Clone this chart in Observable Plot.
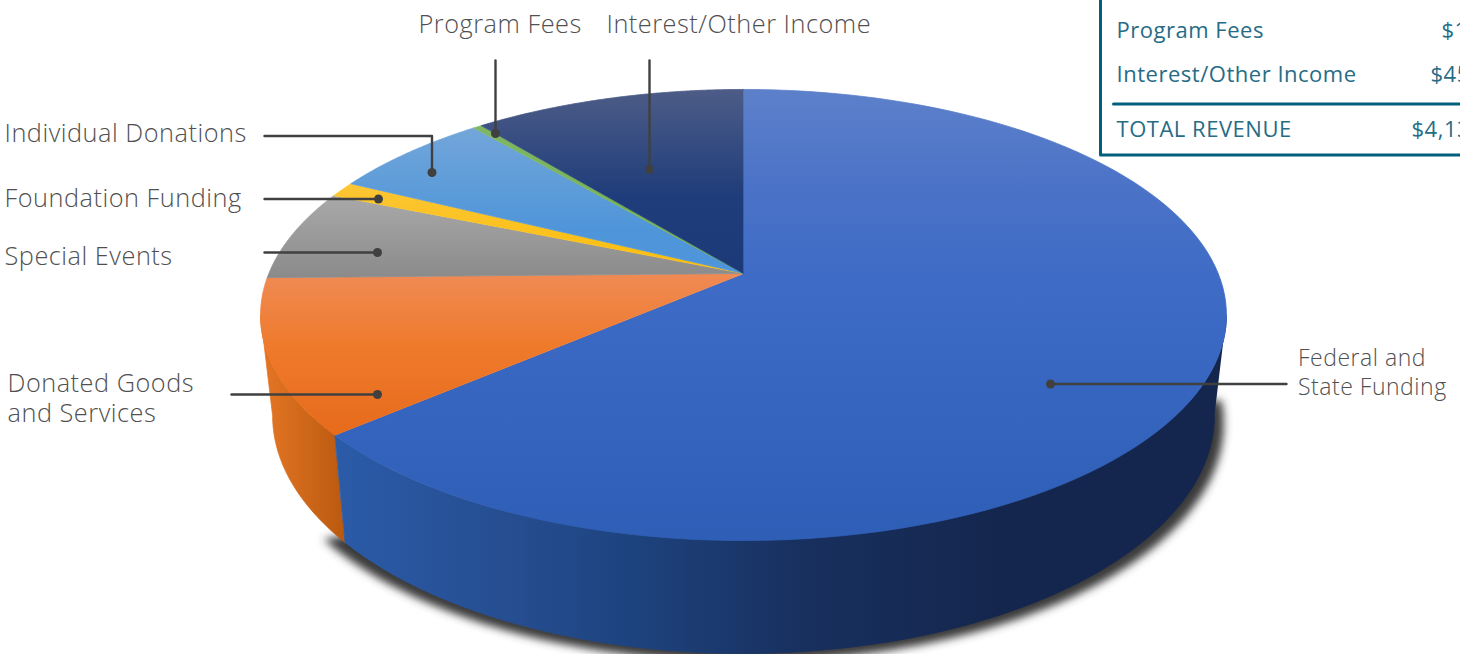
<!DOCTYPE html>
<html>
<head>
<meta charset="utf-8">
<script src="https://cdn.jsdelivr.net/npm/d3@7"></script>
<script src="https://cdn.jsdelivr.net/npm/@observablehq/plot@0.6"></script>
<style>
html,body{margin:0;padding:0;background:#fff;overflow:hidden}
g[aria-label="text"]{letter-spacing:.52px}
</style>
</head>
<body>
<div id="chart"></div>
<script>
// --- data ---
const categories = ["Federal and State Funding","Donated Goods and Services","Special Events","Foundation Funding","Individual Donations","Program Fees","Interest/Other Income"];
const revenue = [2635000,456000,271000,46000,266000,14000,450000];
const tableRows = ["Program Fees","Interest/Other Income","TOTAL REVENUE"];
const tableValues = [revenue[5],revenue[6],d3.sum(revenue)];

// --- look ---
const faceStops = [
  [["89","#5d80ca"],["190","#4a72c7"],["300","#3c6ac5"],["540","#2e5eb6"]],
  [["275","#ef8a53"],["345","#ef7a2c"],["440","#e66a1a"]],
  [["190","#ababab"],["278","#8a8a8a"]],
  [["183","#fcc636"],["275","#fbbd08"]],
  [["127","#73a6d9"],["230","#4e95d9"]],
  [["124","#7fb765"],["270","#70ad47"]],
  [["89","#4d5c87"],["195","#1f3d7a"],["275","#1c3a78"]]
];
const faceColors = ["face0","face1","face2","face3","face4","face5","face6"];
const W = 1460, H = 654;

// --- pie geometry: circle seen in perspective ---
const cx = 743, cy = 273, rx = 474.7, ry = 217.9, k = 0.184;
const wallX = 0.975, wallY = 1.054, wallC = 371.5;
const top3d = t => { // t: clockwise from 12 o'clock, radians
  const u = Math.sin(t), v = -Math.cos(t), d = 1 - k * v;
  return {x: cx + rx * u / d, y: cy + ry * v / d};
};
const bottom3d = t => {
  const p = top3d(t);
  return {x: cx + wallX * (p.x - cx), y: wallC + wallY * (p.y - cy)};
};
const total = d3.sum(revenue);
const arc = (f, a, b) => d3.range(0, 121).map(i => f(a + (b - a) * i / 120));
let acc = 0;
const slices = revenue.map((v, i) => {
  const a = acc / total * 2 * Math.PI; acc += v;
  const b = acc / total * 2 * Math.PI;
  return {a, b, i};
});
const seam = slices[0].b;
const edgeR = Math.acos(-k), edgeL = 2 * Math.PI - edgeR; // silhouette tangents
const wallFed = [...arc(top3d, edgeR, seam), ...arc(bottom3d, seam, edgeR)];
const wallOra = [...arc(top3d, seam, edgeL), ...arc(bottom3d, edgeL, seam)];
const shadow = arc(bottom3d, edgeR - 0.1, seam + 0.05).map(p => ({x: cx + 1.02 * (p.x - cx), y: p.y + 8}));

// --- annotation layout ---
const leaders = [
  {path: [[264,135.5],[431.5,135.5],[431.5,172]], dot: [431.5,172]},
  {path: [[264,198.5],[378,198.5]], dot: [378,198.5]},
  {path: [[264,252],[377,252]], dot: [377,252]},
  {path: [[231,394],[377,394]], dot: [377,394]},
  {path: [[495,60],[495,133]], dot: [495,133]},
  {path: [[649,60],[649,169]], dot: [649,169]},
  {path: [[1286,383.5],[1050,383.5]], dot: [1050,383.5]}
];
const labelLines = [
  {t:"Individual Donations",x:4,y:132},
  {t:"Foundation Funding",x:4,y:197},
  {t:"Special Events",x:4,y:255},
  {t:"Donated Goods\nand Services",x:7,y:397},
  {t:"Program Fees",x:418,y:23},
  {t:"Interest/Other Income",x:606,y:23}
];
const rightLabel = [{t:"Federal and\nState Funding",x:1297.5,y:370.5}];
const tableLabelPos = [[1116,30],[1116,74],[1116,129]];
const tableValuePos = [1441,1430,1411];
const font = "'Open Sans'";
const ink = "#266c86", rule = "#005f7d", labelInk = "#505050", lead = "#404040";
const fmt = d3.format("$,");

const poly = (pts, fill, stroke="none") => Plot.line(pts, {x:"x", y:"y", fill, stroke, strokeWidth: 0.8, curve:"linear"});

const plot = Plot.plot({
  width: W, height: H, margin: 0,
  x: {domain: [0, W], range: [0, W], axis: null},
  y: {domain: [0, H], range: [0, H], axis: null},
  marks: [
    poly(shadow, "#3a3a3a"),
    poly(wallOra, "url(#wallOra)", "url(#wallOra)"),
    poly(wallFed, "url(#wallFed)", "url(#wallFed)"),
    ...slices.map(s => poly([{x: cx, y: cy}, ...arc(top3d, s.a, s.b)], `url(#${faceColors[s.i]})`, `url(#${faceColors[s.i]})`)),
    // table
    Plot.line([[1100,0],[1100,154.5],[W,154.5]], {stroke: rule, strokeWidth: 3}),
    Plot.line([[1113,103.5],[W,103.5]], {stroke: rule, strokeWidth: 3}),
    Plot.text(tableRows, {x: (d,i) => tableLabelPos[i][0], y: (d,i) => tableLabelPos[i][1], text: d => d,
      textAnchor: "start", fontFamily: font, fontWeight: 400, fontSize: 22, fill: ink}),
    Plot.text(tableValues, {x: (d,i) => tableValuePos[i], y: (d,i) => tableLabelPos[i][1], text: d => fmt(d),
      textAnchor: "start", fontFamily: font, fontWeight: 400, fontSize: 22, fill: ink}),
    // leaders
    ...leaders.map(l => Plot.line(l.path, {stroke: lead, strokeWidth: 2.4, curve:"linear"})),
    Plot.dot(leaders.map(l => l.dot), {x: d => d[0], y: d => d[1], r: 4.5, fill: lead, stroke: "none"}),
    // labels
    Plot.text(labelLines, {x: "x", y: "y", text: "t", textAnchor: "start", fontFamily: font, fontWeight: 300, fontSize: 25.3, lineHeight: 1.186, fill: labelInk}),
    Plot.text(rightLabel, {x: "x", y: "y", text: "t", textAnchor: "start", fontFamily: font, fontWeight: 300, fontSize: 23, lineHeight: 1.26, fill: labelInk})
  ]
});

// gradients and blur
const defs = d3.select(plot).insert("defs", ":first-child");
const grad = (id, attrs, stops) => {
  const g = defs.append("linearGradient").attr("id", id).attr("gradientUnits", "userSpaceOnUse");
  Object.entries(attrs).forEach(([a, v]) => g.attr(a, v));
  const lo = +stops[0][0], hi = +stops[stops.length-1][0];
  stops.forEach(([o, c]) => g.append("stop").attr("offset", (+o - lo) / (hi - lo)).attr("stop-color", c));
};
faceStops.forEach((st, i) => grad(faceColors[i], {x1:0, x2:0, y1:st[0][0], y2:st[st.length-1][0]}, st));
grad("wallFed", {x1:346, x2:1000, y1:0, y2:0}, [["346","#2b5aa6"],["520","#254d8f"],["620","#1e4480"],["800","#18305f"],["1000","#14264d"]]);
grad("wallOra", {x1:265, x2:345, y1:0, y2:0}, [["265","#e37524"],["345","#b9590f"]]);
const f = defs.append("filter").attr("id","blur").attr("x","-5%").attr("y","-5%").attr("width","110%").attr("height","110%");
f.append("feGaussianBlur").attr("stdDeviation", 4.5);
const firstLine = plot.querySelector('g[aria-label="line"]');
if (firstLine) firstLine.style.filter = "url(#blur)";
document.getElementById("chart").appendChild(plot);
</script>
</body>
</html>
